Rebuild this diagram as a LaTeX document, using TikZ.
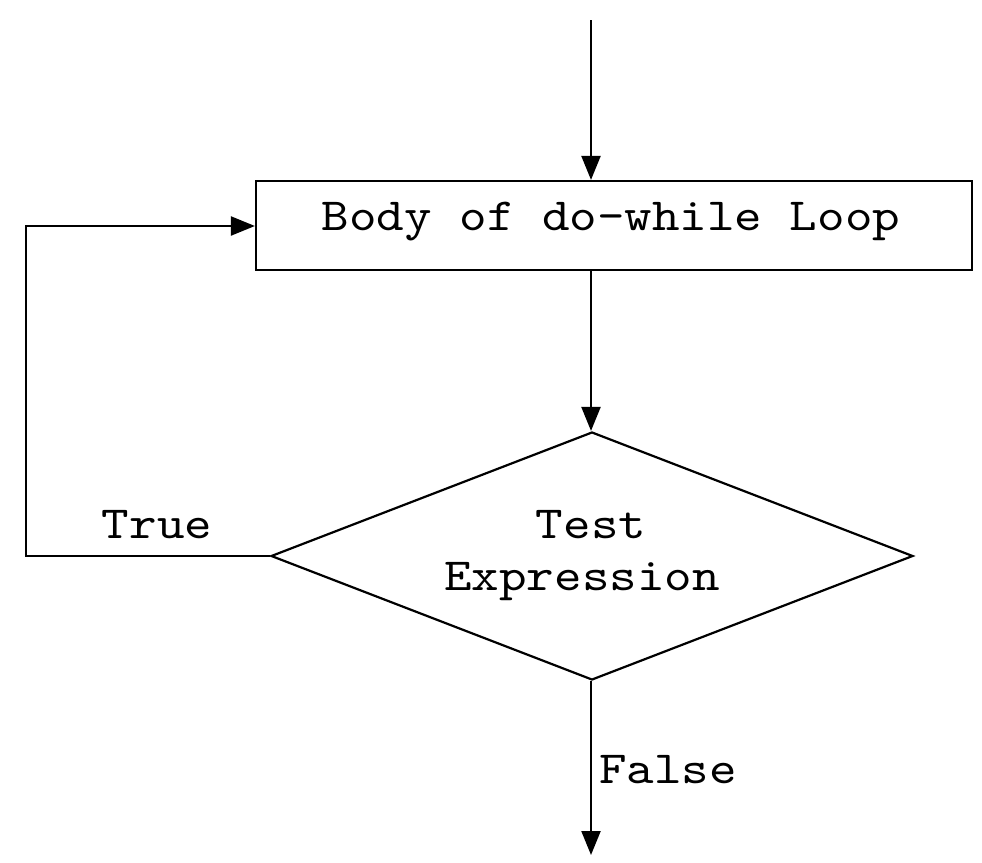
\documentclass[tikz,border=0pt]{standalone}
\usepackage{fontspec}
\newfontfamily\flowfont{lmmono10-regular}[Extension=.otf, FakeStretch=1.14]
\usetikzlibrary{shapes.geometric,arrows.meta}
\begin{document}
\begin{tikzpicture}[x=1pt,y=-1pt,
  line width=2.2pt,
  flow/.style={-{Triangle[length=24pt,width=19pt]}},
  label/.style={font=\flowfont\fontsize{46}{57}\selectfont, inner sep=0pt, text=black},
  bodybox/.style={draw, rectangle, minimum width=716pt, minimum height=89pt, inner sep=0pt},
  testdiamond/.style={draw, diamond, minimum width=642pt, minimum height=248pt, inner sep=0pt}]
  \useasboundingbox (0,0) rectangle (982,862);
  % start, body and test
  \coordinate (start) at (591,20);
  \node[bodybox] (body) at (614,225.5) {};
  \node[label] (bodytxt) at (611,222) {Body of do-while Loop};
  \node[testdiamond] (test) at (592,556) {};
  \node[label] (testtxt) at (591,525) {Test};
  \node[label] (exprtxt) at (582,582) {Expression};
  % exit point and loop corners
  \coordinate (exit) at (591,855);
  \coordinate (looptop) at (26,226);
  \coordinate (loopbot) at (looptop |- test.west);
  % connectors
  \draw[flow] (start) -- (start |- body.north);
  \draw[flow] (start |- body.south) -- (start |- test.north);
  \draw[flow] (start |- test.south) -- (exit);
  \draw[flow] (test.west) -- (loopbot) -- (looptop) -- (body.west |- looptop);
  % branch labels
  \node[label] (truetxt) at (157,525) {True};
  \node[label, anchor=west] (falsetxt) at (598,770) {False};
\end{tikzpicture}
\end{document}
